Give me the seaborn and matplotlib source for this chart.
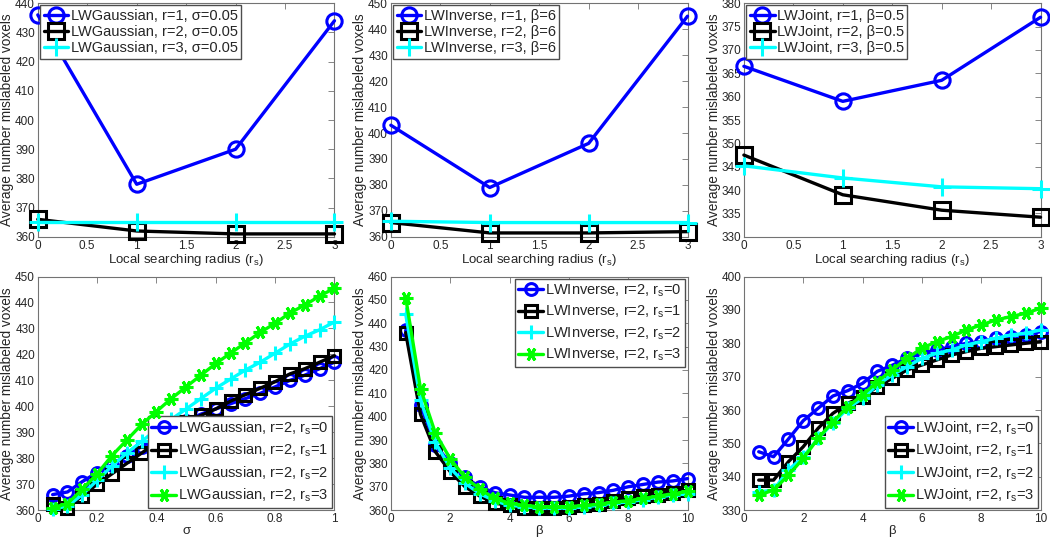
import matplotlib
matplotlib.use("Agg")
import matplotlib.pyplot as plt
import seaborn as sns
import numpy as np
from matplotlib.ticker import FuncFormatter, MultipleLocator

# ---- data ----
rs = [0, 1, 2, 3]

gauss_r1 = [436, 378, 390, 434]
gauss_r2 = [366, 362, 361, 361]
gauss_r3 = [365, 365, 365, 365]

inv_r1 = [403, 379, 396, 445]
inv_r2 = [365.5, 361.5, 361.5, 362]
inv_r3 = [366, 365.5, 365.5, 365.5]

joint_r1 = [366.5, 359, 363.5, 377]
joint_r2 = [347.5, 339, 335.7, 334.2]
joint_r3 = [345.2, 342.6, 340.7, 340.3]

sigma = [0.05, 0.10, 0.15, 0.20, 0.25, 0.30, 0.35, 0.40, 0.45, 0.50,
         0.55, 0.60, 0.65, 0.70, 0.75, 0.80, 0.85, 0.90, 0.95, 1.00]
gs_rs0 = [366, 367, 371, 374.5, 377.5, 381, 384.5, 388, 391.5, 394.5,
          397, 399, 401, 403, 405, 407.5, 410, 412, 414.5, 417]
gs_rs1 = [362.5, 361, 365.5, 370, 374, 378, 382, 386, 390, 394,
          396.5, 399, 402, 404.5, 407, 409.5, 412.5, 414.5, 417, 419.5]
gs_rs2 = [360.5, 361.5, 366, 371.5, 377, 382, 386.5, 391, 395, 399,
          403, 407, 410.5, 414, 417, 420.5, 424, 427, 429.5, 432.5]
gs_rs3 = [361, 362.5, 368, 374, 381, 387, 393, 398, 403, 407.5,
          412, 416.5, 420.5, 424.5, 428.5, 432, 436, 439, 442.5, 445.5]

beta = [0.5, 1.0, 1.5, 2.0, 2.5, 3.0, 3.5, 4.0, 4.5, 5.0,
        5.5, 6.0, 6.5, 7.0, 7.5, 8.0, 8.5, 9.0, 9.5, 10.0]
iv_rs0 = [437, 405, 388, 380, 374, 370, 367.5, 366.5, 365.5, 365.5,
          365.5, 366, 367, 367.5, 368.5, 370, 371, 372, 372.5, 373.5]
iv_rs1 = [436, 401, 385, 376.5, 370, 366, 363, 362, 361, 361,
          361, 361.5, 362, 362.5, 364, 365, 366, 366.5, 367.5, 368.5]
iv_rs2 = [444, 407, 389, 378, 371.5, 367, 364, 362, 361.5, 361,
          361, 361, 361.5, 362, 363, 363.5, 364.5, 365.5, 366.5, 367]
iv_rs3 = [451, 412, 393, 382, 374, 369, 365, 363, 362, 361.5,
          361.5, 361.5, 362, 362.5, 363.5, 364, 365, 366, 367, 368]

jt_rs0 = [347.5, 346, 351.3, 356.8, 360.5, 364.2, 365.8, 368, 371.6, 373.4,
          375.6, 377, 378, 379, 380, 380.5, 381.5, 382, 382.5, 383.5]
jt_rs1 = [339, 339, 344.5, 349, 354.5, 359, 362, 364, 367, 369.5,
          372, 373.5, 375, 376.5, 377.5, 378.5, 379, 379.5, 380, 380.5]
jt_rs2 = [335.5, 336, 342, 346, 351.5, 356, 360.5, 363.5, 367.5, 370.5,
          373, 375.5, 377, 378, 379.5, 380.5, 381.5, 382.5, 383, 384]
jt_rs3 = [334.5, 336, 340.5, 345.5, 351.5, 356.5, 361, 364.5, 368.5, 372,
          375.5, 378.5, 380.5, 382, 384, 385.5, 387, 388, 389, 390.5]

colors = ["#0000ff", "black", "#00ffff", "#00ff00"]
markers = ["o", "s", "+", (6, 2, 90)]

sns.set_style("white")
plt.rcParams["font.family"] = ["Liberation Sans", "DejaVu Sans"]
plt.rcParams["mathtext.fontset"] = "custom"
plt.rcParams["mathtext.rm"] = "Liberation Sans"
plt.rcParams["mathtext.it"] = "Liberation Sans"

fig, axes = plt.subplots(2, 3, figsize=(10.5, 5.37), dpi=100)
fig.subplots_adjust(left=0.036, right=0.991, top=0.994, bottom=0.05,
                    wspace=0.19, hspace=0.17)

ylab = "Average number mislabeled voxels"
fmt = FuncFormatter(lambda v, p: f"{v:g}")


def draw(ax, x, series, labels, big):
    ms = 11 if big else 8.5
    for i, (y, lab) in enumerate(zip(series, labels)):
        sns.lineplot(x=x, y=y, ax=ax, color=colors[i], marker=markers[i],
                     markersize=ms if i < 2 else ms * 1.15,
                     markerfacecolor="none", markeredgecolor=colors[i],
                     markeredgewidth=2.2, linewidth=2.4, label=lab,
                     clip_on=False, zorder=3 + i)


def style(ax, xlim, xstep, ylim, ystep, xlabel):
    ax.set_xlim(*xlim)
    ax.set_ylim(*ylim)
    ax.xaxis.set_major_locator(MultipleLocator(xstep))
    ax.yaxis.set_major_locator(MultipleLocator(ystep))
    ax.xaxis.set_major_formatter(fmt)
    ax.yaxis.set_major_formatter(fmt)
    ax.tick_params(direction="in", top=True, right=True, length=4,
                   width=0.6, color="0.45", labelsize=8.5, pad=2)
    for s in ax.spines.values():
        s.set_color("0.45")
        s.set_linewidth(0.8)
    ax.set_xlabel(xlabel, fontsize=9.5, labelpad=0)
    ax.set_ylabel(ylab, fontsize=9.8, labelpad=0.5)


def legend(ax, loc, spacing):
    ax.legend(loc=loc, fancybox=False, edgecolor="0.3", framealpha=1,
              fontsize=10.5, handlelength=1.7, handletextpad=0.15,
              borderpad=0.25, labelspacing=spacing, borderaxespad=0.15)


rs_lab = "Local searching radius (r$_{\\rm s}$)"

ax = axes[0, 0]
draw(ax, rs, [gauss_r1, gauss_r2, gauss_r3],
     ["LWGaussian, r=1, σ=0.05", "LWGaussian, r=2, σ=0.05", "LWGaussian, r=3, σ=0.05"], True)
style(ax, (0, 3), 0.5, (360, 440), 10, rs_lab)
legend(ax, "upper left", 0.15)

ax = axes[0, 1]
draw(ax, rs, [inv_r1, inv_r2, inv_r3],
     ["LWInverse, r=1, β=6", "LWInverse, r=2, β=6", "LWInverse, r=3, β=6"], True)
style(ax, (0, 3), 0.5, (360, 450), 10, rs_lab)
legend(ax, "upper left", 0.15)

ax = axes[0, 2]
draw(ax, rs, [joint_r1, joint_r2, joint_r3],
     ["LWJoint, r=1, β=0.5", "LWJoint, r=2, β=0.5", "LWJoint, r=3, β=0.5"], True)
style(ax, (0, 3), 0.5, (330, 380), 5, rs_lab)
legend(ax, "upper left", 0.15)

ax = axes[1, 0]
draw(ax, sigma, [gs_rs0, gs_rs1, gs_rs2, gs_rs3],
     [f"LWGaussian, r=2, r$_{{\\rm s}}$={k}" for k in range(4)], False)
style(ax, (0, 1), 0.2, (360, 450), 10, "σ")
legend(ax, "lower right", 0.35)

ax = axes[1, 1]
draw(ax, beta, [iv_rs0, iv_rs1, iv_rs2, iv_rs3],
     [f"LWInverse, r=2, r$_{{\\rm s}}$={k}" for k in range(4)], False)
style(ax, (0, 10), 2, (360, 460), 10, "β")
legend(ax, "upper right", 0.35)

ax = axes[1, 2]
draw(ax, beta, [jt_rs0, jt_rs1, jt_rs2, jt_rs3],
     [f"LWJoint, r=2, r$_{{\\rm s}}$={k}" for k in range(4)], False)
style(ax, (0, 10), 2, (330, 400), 10, "β")
legend(ax, "lower right", 0.35)

fig.savefig("out.png", dpi=100)
